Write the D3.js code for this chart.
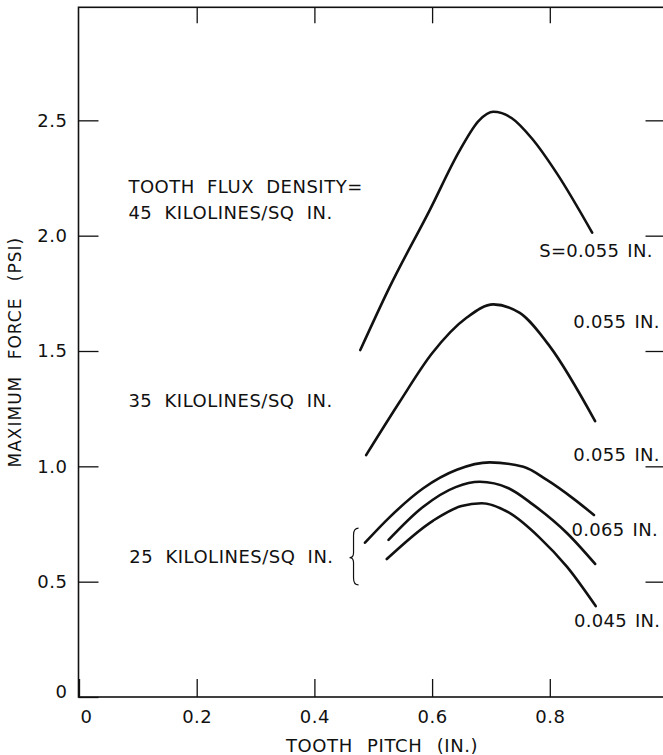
<!DOCTYPE html>
<html>
<head>
<meta charset="utf-8">
<script src="https://cdn.jsdelivr.net/npm/d3@7"></script>
<style>
  html, body { margin: 0; padding: 0; background: #fff; }
  svg { display: block; }
  text { font-family: "DejaVu Sans", sans-serif; fill: #111; }
</style>
</head>
<body>
<svg id="chart" width="663" height="755"></svg>
<script>
// ---------------- data ----------------
const xTicks = [0, 0.2, 0.4, 0.6, 0.8, 1.0];
const xTickLabels = ["0", "0.2", "0.4", "0.6", "0.8", ""];
const yTicks = [0, 0.5, 1.0, 1.5, 2.0, 2.5];
const yTickLabels = ["0", "0.5", "1.0", "1.5", "2.0", "2.5"];

// 45 kilolines/sq in, s = 0.055 in.
const pitch45 = [0.478, 0.528, 0.596, 0.647, 0.680, 0.704, 0.735, 0.770, 0.812, 0.872];
const force45 = [1.504, 1.778, 2.111, 2.370, 2.500, 2.537, 2.510, 2.420, 2.270, 2.013];

// 35 kilolines/sq in, s = 0.055 in.
const pitch35 = [0.488, 0.545, 0.600, 0.659, 0.704, 0.749, 0.800, 0.877];
const force35 = [1.049, 1.280, 1.490, 1.645, 1.702, 1.665, 1.520, 1.196];

// 25 kilolines/sq in — three gaps
const pitch25a = [0.486, 0.528, 0.585, 0.642, 0.698, 0.755, 0.795, 0.840, 0.875];
const force25a = [0.669, 0.780, 0.905, 0.985, 1.017, 0.998, 0.941, 0.860, 0.789];
const pitch25b = [0.526, 0.585, 0.640, 0.681, 0.730, 0.771, 0.829, 0.877];
const force25b = [0.681, 0.825, 0.910, 0.933, 0.905, 0.835, 0.711, 0.577];
const pitch25c = [0.523, 0.602, 0.650, 0.684, 0.730, 0.783, 0.829, 0.878];
const force25c = [0.598, 0.765, 0.828, 0.840, 0.800, 0.690, 0.565, 0.394];

const seriesNames = ["45", "35", "25a", "25b", "25c"];
const seriesPitch = [pitch45, pitch35, pitch25a, pitch25b, pitch25c];
const seriesForce = [force45, force35, force25a, force25b, force25c];

// annotation texts
const noteTexts = [
  "TOOTH FLUX DENSITY=",
  "45 KILOLINES/SQ IN.",
  "35 KILOLINES/SQ IN.",
  "25 KILOLINES/SQ IN.",
  "S=0.055 IN.",
  "0.055 IN.",
  "0.055 IN.",
  "0.065 IN.",
  "0.045 IN."
];
// annotation anchor positions (data units)
const noteX = [0.084, 0.084, 0.084, 0.0855, 0.782, 0.840, 0.840, 0.837, 0.841];
const noteY = [2.184, 2.071, 1.256, 0.580, 1.909, 1.598, 1.025, 0.698, 0.305];

const xTitle = "TOOTH PITCH (IN.)";
const yTitle = "MAXIMUM FORCE (PSI)";

// ---------------- layout ----------------
const svg = d3.select("#chart");
const X0 = 78.5, X1 = 667.5, Y0 = 697, Y1 = 5;
const x = d3.scaleLinear().domain([0, 1.0]).range([X0 + 0.5, X1]);
const y = d3.scaleLinear().domain([0, 3.0]).range([Y0, Y1]);

// frame
svg.append("rect")
  .attr("x", X0).attr("y", y(2.99)).attr("width", X1 - X0).attr("height", Y0 - y(2.99))
  .attr("fill", "none").attr("stroke", "#111").attr("stroke-width", 1.6);

const fontSize = 18;

// left axis
const gL = svg.append("g").attr("transform", `translate(${X0},0)`)
  .call(d3.axisLeft(y).tickValues(yTicks).tickSize(-20).tickPadding(11)
    .tickFormat((d, i) => yTickLabels[i]));
// right axis
const gR = svg.append("g").attr("transform", `translate(${X1},0)`)
  .call(d3.axisRight(y).tickValues(yTicks.slice(1)).tickSize(-22).tickFormat(""));
// bottom axis
const gB = svg.append("g").attr("transform", `translate(0,${Y0})`)
  .call(d3.axisBottom(x).tickValues(xTicks).tickSize(-18).tickPadding(13)
    .tickFormat((d, i) => xTickLabels[i]));
// top axis
const gT = svg.append("g").attr("transform", `translate(0,${y(2.99)})`)
  .call(d3.axisTop(x).tickValues(xTicks.slice(1)).tickSize(-16).tickFormat(""));

[gL, gR, gB, gT].forEach(g => {
  g.select(".domain").remove();
  g.selectAll(".tick line").attr("stroke", "#111").attr("stroke-width", 1.3);
  g.selectAll(".tick text")
    .attr("fill", "#111")
    .style("font-family", '"DejaVu Sans", sans-serif')
    .style("font-size", fontSize + "px")
    .style("letter-spacing", "0.5px");
});
// nudge the zero labels off the corner
gL.selectAll(".tick").filter(d => d === 0).select("text").attr("dy", "0");
gB.selectAll(".tick").filter(d => d === 0).select("text").attr("dx", "7");

// axis titles
svg.append("text")
  .attr("x", x(0.515)).attr("y", 752)
  .attr("text-anchor", "middle")
  .style("font-size", "18px")
  .style("letter-spacing", "0.6px")
  .style("word-spacing", "8px")
  .text(xTitle);

svg.append("text")
  .attr("transform", `translate(21,${y(1.495)}) rotate(-90)`)
  .attr("text-anchor", "middle")
  .style("font-size", "17px")
  .style("letter-spacing", "1px")
  .style("word-spacing", "10px")
  .text(yTitle);

// curves
const line = d3.line()
  .x(d => x(d[0])).y(d => y(d[1]))
  .curve(d3.curveMonotoneX);

svg.append("g").selectAll("path")
  .data(seriesNames.map((n, i) => seriesPitch[i].map((p, j) => [p, seriesForce[i][j]])))
  .join("path")
  .attr("d", line)
  .attr("fill", "none")
  .attr("stroke", "#111")
  .attr("stroke-width", 2.6)
  .attr("stroke-linecap", "round")
  .attr("stroke-linejoin", "round");

// annotations
svg.append("g").selectAll("text")
  .data(noteTexts)
  .join("text")
  .attr("x", (d, i) => x(noteX[i]))
  .attr("y", (d, i) => y(noteY[i]))
  .style("font-size", "18px")
  .style("letter-spacing", (d, i) => i < 4 ? "0.5px" : "0.3px")
  .style("word-spacing", (d, i) => i < 4 ? "6px" : "2px")
  .text(d => d);

// brace for the 25 kilolines group
const bx = x(0.4665), byTop = y(0.732), byMid = y(0.604), byBot = y(0.486);
const bp = d3.path();
bp.moveTo(bx + 5, byTop);
bp.quadraticCurveTo(bx, byTop, bx, byTop + 7);
bp.lineTo(bx, byMid - 5);
bp.quadraticCurveTo(bx, byMid, bx - 4, byMid);
bp.quadraticCurveTo(bx, byMid, bx, byMid + 5);
bp.lineTo(bx, byBot - 7);
bp.quadraticCurveTo(bx, byBot, bx + 5, byBot);
svg.append("path").attr("d", bp.toString())
  .attr("fill", "none").attr("stroke", "#111").attr("stroke-width", 1.2);
</script>
</body>
</html>
